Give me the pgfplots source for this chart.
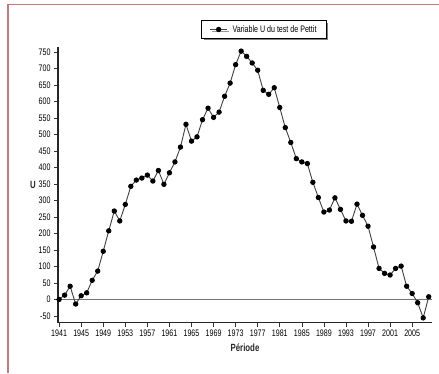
\documentclass[border=0pt]{standalone}
\usepackage{fontspec}
\setmainfont{Liberation Sans}[FakeStretch=0.75]
\usepackage{pgfplots}
\pgfplotsset{compat=1.18}
\usetikzlibrary{shadows}
\definecolor{frame}{RGB}{205,120,120}
\pgfplotstableread{
year U
1941 0
1942 13
1943 40
1944 -14
1945 11
1946 20
1947 58
1948 86
1949 146
1950 208
1951 268
1952 238
1953 288
1954 343
1955 362
1956 368
1957 377
1958 359
1959 391
1960 349
1961 384
1962 417
1963 462
1964 531
1965 480
1966 493
1967 545
1968 580
1969 552
1970 568
1971 616
1972 656
1973 712
1974 753
1975 737
1976 717
1977 695
1978 634
1979 622
1980 642
1981 582
1982 521
1983 476
1984 427
1985 417
1986 412
1987 355
1988 309
1989 265
1990 271
1991 308
1992 273
1993 238
1994 237
1995 289
1996 255
1997 222
1998 159
1999 94
2000 79
2001 74
2002 94
2003 101
2004 40
2005 18
2006 -10
2007 -56
2008 8
}\pettit
\begin{document}
\begin{tikzpicture}[x=1bp,y=1bp]
\useasboundingbox (0,0) rectangle (439,373);
\fill[white] (0,0) rectangle (439,373);
\draw[frame, line width=1.5bp] (8,0) -- (8,368.7) -- (440,368.7);
\begin{axis}[
  at={(58bp,50.5bp)}, anchor=south west,
  scale only axis, width=374bp, height=276bp,
  xmin=1940.8, xmax=2008.6, ymin=-70, ymax=767,
  axis lines=left,
  axis line style={-, line width=1.4bp, black!85},
  tick pos=left, tick align=outside,
  major tick length=4bp,
  tick style={black!80, line width=0.6bp},
  xtick={1941,1945,...,2005},
  ytick={-50,0,50,...,750},
  /pgf/number format/.cd, 1000 sep={}, assume math mode=true,
  /pgfplots/.cd,
  ticklabel style={font=\fontsize{9.5}{10}\selectfont, black},
  xlabel={Période},
  ylabel={U},
  label style={font=\fontsize{10.5}{12}\selectfont\bfseries, black!85},
  ylabel style={rotate=-90, at={(axis description cs:-0.067,0.5)}, anchor=center},
  legend style={at={(axis description cs:0.551,1.0616)}, anchor=center,
    draw=black, line width=0.8bp, fill=white,
    drop shadow={shadow xshift=2bp, shadow yshift=-2bp, fill=black},
    font=\fontsize{9.5}{11}\selectfont, inner xsep=8bp, inner ysep=2.5bp,
    legend cell align=left,
    /tikz/every odd column/.append style={column sep=3bp}},
  clip=false,
]
\addplot[black!55, line width=1.3bp, forget plot] coordinates {(1940.8,0) (2008.6,0)};
\addplot[color=black!75, line width=0.9bp, mark=*, mark size=2.2bp,
  mark options={fill=black, draw=black, solid}] table[x=year, y=U] {\pettit};
\addlegendentry{Variable U du test de Pettit}
\end{axis}
\end{tikzpicture}
\end{document}
